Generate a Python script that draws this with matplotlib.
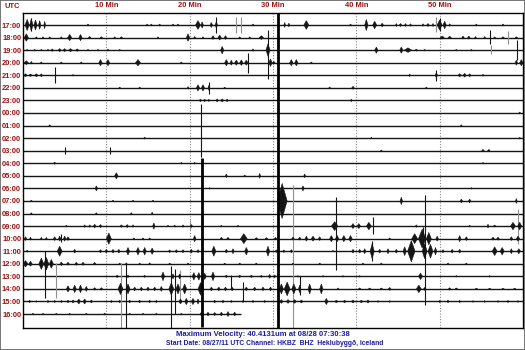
"""Helicorder plot: HKBZ BHZ, Heklubyggd, Iceland, 24 h from 08/27/11 17:00 UTC."""

import matplotlib
matplotlib.use("Agg")
import matplotlib.pyplot as plt
from matplotlib.patches import Rectangle

# --- data -------------------------------------------------------------------
hours = ["17:00", "18:00", "19:00", "20:00", "21:00", "22:00", "23:00", "00:00",
         "01:00", "02:00", "03:00", "04:00", "05:00", "06:00", "07:00", "08:00",
         "09:00", "10:00", "11:00", "12:00", "13:00", "14:00", "15:00", "16:00"]
minute_ticks = [10, 20, 30, 40, 50]
minute_labels = ["10 Min", "20 Min", "30 Min", "40 Min", "50 Min"]
last_minute = 26.2  # record stops at 16:26

# bursts: (row, minute, half-amplitude in rows, duration in minutes)
bursts = [
    (0, 0.5, 0.45, 0.5), (0, 1.0, 0.5, 0.4), (0, 1.5, 0.4, 0.4), (0, 2.0, 0.35, 0.3),
    (0, 2.6, 0.3, 0.2), (0, 7.8, 0.08, 0.2), (0, 14.9, 0.08, 0.2), (0, 15.4, 0.08, 0.2),
    (0, 16.4, 0.08, 0.2), (0, 18.0, 0.08, 0.2), (0, 18.6, 0.08, 0.2), (0, 21.0, 0.35, 0.6),
    (0, 21.5, 0.25, 0.3), (0, 22.6, 0.2, 0.3), (0, 23.2, 0.25, 0.3), (0, 27.6, 0.08, 0.2),
    (0, 31.4, 0.2, 0.2), (0, 31.9, 0.15, 0.2), (0, 34.0, 0.35, 0.6), (0, 39.3, 0.08, 0.2),
    (0, 41.2, 0.45, 0.4), (0, 42.2, 0.3, 0.5), (0, 43.1, 0.15, 0.3), (0, 44.8, 0.12, 0.2),
    (0, 45.3, 0.12, 0.3), (0, 45.9, 0.12, 0.2), (0, 46.5, 0.1, 0.2), (0, 48.0, 0.1, 0.2),
    (0, 48.6, 0.12, 0.3), (0, 49.2, 0.12, 0.2), (0, 50.0, 0.4, 0.6), (0, 50.6, 0.3, 0.4),
    (0, 51.2, 0.1, 0.2), (0, 54.4, 0.08, 0.2), (0, 57.6, 0.08, 0.2),
    (1, 0.4, 0.3, 0.5), (1, 1.6, 0.06, 0.2), (1, 2.4, 0.06, 0.2), (1, 3.2, 0.06, 0.2),
    (1, 4.6, 0.06, 0.2), (1, 5.6, 0.25, 0.5), (1, 6.9, 0.25, 0.4), (1, 8.0, 0.08, 0.3),
    (1, 9.4, 0.06, 0.3), (1, 11.0, 0.06, 0.2), (1, 11.8, 0.06, 0.3), (1, 16.2, 0.06, 0.2),
    (1, 19.8, 0.3, 0.4), (1, 20.6, 0.08, 0.2), (1, 21.6, 0.06, 0.2), (1, 22.8, 0.15, 0.3),
    (1, 23.6, 0.2, 0.4), (1, 24.3, 0.15, 0.3), (1, 26.0, 0.06, 0.2), (1, 27.2, 0.06, 0.2),
    (1, 28.6, 0.15, 0.5), (1, 50.3, 0.12, 0.5), (1, 51.2, 0.1, 0.4), (1, 52.8, 0.12, 0.3),
    (1, 53.5, 0.12, 0.3), (1, 54.3, 0.08, 0.2), (1, 55.4, 0.08, 0.2), (1, 56.6, 0.06, 0.2),
    (1, 57.6, 0.06, 0.3), (1, 59.2, 0.06, 0.3),
    (2, 0.5, 0.06, 0.2), (2, 1.4, 0.06, 0.2), (2, 2.2, 0.06, 0.2), (2, 3.0, 0.06, 0.2),
    (2, 3.5, 0.1, 0.3), (2, 4.4, 0.12, 0.4), (2, 5.0, 0.12, 0.4), (2, 5.7, 0.12, 0.5),
    (2, 6.5, 0.1, 0.4), (2, 7.8, 0.06, 0.2), (2, 9.0, 0.06, 0.2), (2, 10.2, 0.08, 0.2),
    (2, 11.6, 0.06, 0.2), (2, 23.9, 0.3, 0.4), (2, 27.6, 0.1, 0.2), (2, 29.4, 0.5, 0.5),
    (2, 42.4, 0.25, 0.4), (2, 45.4, 0.25, 0.4), (2, 46.2, 0.18, 0.9), (2, 47.2, 0.08, 0.3),
    (2, 48.2, 0.06, 0.2), (2, 52.0, 0.06, 0.2), (2, 53.8, 0.06, 0.2),
    (3, 0.4, 0.15, 0.5), (3, 1.0, 0.1, 0.2), (3, 2.2, 0.06, 0.2), (3, 4.6, 0.06, 0.2),
    (3, 7.0, 0.06, 0.2), (3, 9.3, 0.25, 0.4), (3, 10.2, 0.25, 0.4), (3, 13.8, 0.25, 0.6),
    (3, 19.0, 0.06, 0.2), (3, 24.4, 0.25, 0.4), (3, 25.0, 0.2, 0.3), (3, 25.6, 0.2, 0.4),
    (3, 26.2, 0.22, 0.4), (3, 26.8, 0.2, 0.4), (3, 29.7, 0.3, 0.4), (3, 30.1, 0.1, 0.3),
    (3, 32.2, 0.25, 0.4), (3, 32.8, 0.25, 0.4), (3, 34.6, 0.06, 0.2), (3, 59.2, 0.2, 0.3),
    (3, 59.8, 0.25, 0.4),
    (4, 0.3, 0.12, 0.4), (4, 0.9, 0.1, 0.4), (4, 1.6, 0.12, 0.4), (4, 2.2, 0.12, 0.3),
    (4, 6.0, 0.06, 0.2), (4, 46.4, 0.1, 0.2), (4, 49.6, 0.2, 0.3), (4, 52.4, 0.12, 0.4),
    (4, 53.0, 0.15, 0.4), (4, 53.6, 0.12, 0.3), (4, 55.2, 0.08, 0.2),
    (5, 11.6, 0.06, 0.2), (5, 14.0, 0.06, 0.2), (5, 19.8, 0.1, 0.2), (5, 21.0, 0.25, 0.4),
    (5, 21.6, 0.25, 0.4), (5, 22.3, 0.2, 0.2), (5, 24.2, 0.06, 0.2), (5, 36.8, 0.08, 0.2),
    (5, 39.6, 0.12, 0.3), (5, 48.4, 0.06, 0.2),
    (6, 21.3, 0.1, 0.3), (6, 21.8, 0.1, 0.3), (6, 22.3, 0.08, 0.3), (6, 23.3, 0.12, 0.3),
    (6, 23.9, 0.12, 0.4), (6, 24.5, 0.1, 0.3), (6, 39.4, 0.1, 0.2),
    (7, 59.6, 0.08, 0.2),
    (8, 3.2, 0.06, 0.2), (8, 52.6, 0.06, 0.2),
    (9, 14.6, 0.08, 0.2), (9, 41.8, 0.06, 0.2), (9, 59.6, 0.06, 0.2),
    (10, 43.0, 0.06, 0.2), (10, 55.2, 0.1, 0.3), (10, 55.9, 0.1, 0.3),
    (11, 3.8, 0.08, 0.3), (11, 19.0, 0.06, 0.2), (11, 20.6, 0.06, 0.2), (11, 55.2, 0.06, 0.2),
    (12, 11.2, 0.25, 0.4), (12, 24.4, 0.15, 0.2), (12, 26.6, 0.06, 0.2), (12, 28.4, 0.2, 0.2),
    (12, 33.8, 0.15, 0.2),
    (13, 8.8, 0.2, 0.3), (13, 22.4, 0.06, 0.2), (13, 33.6, 0.2, 0.3), (13, 53.8, 0.06, 0.2),
    (14, 1.0, 0.06, 0.2), (14, 10.8, 0.06, 0.2), (14, 13.2, 0.06, 0.2), (14, 15.6, 0.06, 0.2),
    (14, 31.1, 1.4, 1.2), (14, 45.4, 0.3, 0.3), (14, 52.6, 0.15, 0.3), (14, 53.6, 0.15, 0.3),
    (14, 59.2, 0.2, 0.2),
    (15, 1.0, 0.06, 0.2), (15, 8.8, 0.06, 0.2), (15, 13.0, 0.06, 0.2), (15, 15.5, 0.1, 0.2),
    (16, 5.2, 0.06, 0.2), (16, 7.4, 0.1, 0.2), (16, 8.0, 0.1, 0.2), (16, 8.6, 0.15, 0.3),
    (16, 9.3, 0.12, 0.3), (16, 11.8, 0.1, 0.3), (16, 12.5, 0.12, 0.3), (16, 13.2, 0.1, 0.2),
    (16, 15.7, 0.25, 0.3), (16, 17.4, 0.06, 0.2), (16, 18.2, 0.08, 0.2), (16, 19.2, 0.1, 0.2),
    (16, 20.2, 0.12, 0.3), (16, 23.8, 0.06, 0.2), (16, 25.8, 0.06, 0.2), (16, 37.4, 0.35, 0.8),
    (16, 39.6, 0.2, 0.4), (16, 40.3, 0.2, 0.4), (16, 41.5, 0.3, 0.6), (16, 47.2, 0.1, 0.2),
    (16, 53.6, 0.06, 0.2), (16, 55.8, 0.15, 0.2), (16, 56.6, 0.08, 0.3), (16, 58.8, 0.3, 0.6),
    (16, 59.6, 0.3, 0.5),
    (17, 0.3, 0.15, 0.3), (17, 0.9, 0.12, 0.2), (17, 2.2, 0.1, 0.2), (17, 2.8, 0.1, 0.2),
    (17, 3.8, 0.15, 0.3), (17, 4.4, 0.2, 0.3), (17, 5.0, 0.2, 0.3), (17, 5.4, 0.15, 0.3),
    (17, 10.3, 0.45, 0.6), (17, 13.3, 0.06, 0.2), (17, 14.4, 0.06, 0.2), (17, 15.2, 0.06, 0.2),
    (17, 20.6, 0.25, 0.3), (17, 23.8, 0.1, 0.3), (17, 24.6, 0.1, 0.3), (17, 26.5, 0.4, 0.8),
    (17, 28.0, 0.08, 0.3), (17, 29.2, 0.08, 0.3), (17, 30.3, 0.1, 0.3), (17, 32.4, 0.12, 0.3),
    (17, 33.2, 0.12, 0.3), (17, 34.0, 0.2, 0.3), (17, 34.8, 0.2, 0.4), (17, 35.6, 0.15, 0.3),
    (17, 37.0, 0.25, 0.4), (17, 37.7, 0.25, 0.4), (17, 38.5, 0.25, 0.4), (17, 39.3, 0.25, 0.4),
    (17, 44.0, 0.06, 0.2), (17, 47.0, 0.4, 0.7), (17, 47.9, 0.75, 0.9), (17, 48.7, 0.5, 0.6),
    (17, 49.7, 0.2, 0.3), (17, 52.4, 0.25, 0.3), (17, 53.2, 0.15, 0.3), (17, 56.4, 0.12, 0.3),
    (17, 57.0, 0.12, 0.3), (17, 58.6, 0.15, 0.3), (17, 59.4, 0.2, 0.4),
    (18, 0.5, 0.08, 0.2), (18, 4.4, 0.4, 0.6), (18, 6.2, 0.15, 0.3), (18, 9.3, 0.12, 0.3),
    (18, 10.0, 0.15, 0.3), (18, 10.8, 0.15, 0.3), (18, 11.5, 0.15, 0.3), (18, 12.6, 0.3, 0.4),
    (18, 13.8, 0.3, 0.4), (18, 14.6, 0.3, 0.4), (18, 15.5, 0.25, 0.4), (18, 17.6, 0.1, 0.3),
    (18, 18.4, 0.12, 0.3), (18, 19.2, 0.12, 0.3), (18, 20.2, 0.15, 0.3), (18, 21.0, 0.12, 0.3),
    (18, 22.9, 0.4, 0.5), (18, 24.4, 0.15, 0.3), (18, 25.2, 0.2, 0.3), (18, 26.8, 0.3, 0.4),
    (18, 29.4, 0.4, 0.4), (18, 30.4, 0.1, 0.3), (18, 31.3, 0.1, 0.3), (18, 32.2, 0.12, 0.3),
    (18, 37.2, 0.06, 0.2), (18, 39.6, 0.15, 0.3), (18, 40.4, 0.15, 0.3), (18, 41.0, 0.2, 0.3),
    (18, 41.9, 0.6, 0.5), (18, 42.8, 0.15, 0.3), (18, 43.8, 0.2, 0.3), (18, 44.8, 0.15, 0.3),
    (18, 45.8, 0.35, 0.4), (18, 46.6, 0.85, 0.9), (18, 48.2, 0.6, 0.6), (18, 48.9, 0.55, 0.6),
    (18, 49.5, 0.3, 0.3), (18, 50.4, 0.12, 0.3), (18, 51.5, 0.15, 0.3), (18, 52.4, 0.15, 0.3),
    (18, 56.6, 0.35, 0.6), (18, 57.5, 0.3, 0.5), (18, 58.6, 0.2, 0.3), (18, 59.5, 0.2, 0.4),
    (19, 0.3, 0.25, 0.6), (19, 0.9, 0.2, 0.4), (19, 2.2, 0.45, 0.6), (19, 2.8, 0.5, 0.6),
    (19, 3.4, 0.35, 0.5), (19, 4.6, 0.15, 0.3), (19, 5.4, 0.12, 0.3), (19, 6.4, 0.12, 0.3),
    (19, 7.2, 0.12, 0.3), (19, 8.6, 0.1, 0.3), (19, 11.6, 0.06, 0.2), (19, 12.4, 0.08, 0.2),
    (19, 14.0, 0.06, 0.2), (19, 15.2, 0.08, 0.2), (19, 17.6, 0.06, 0.2), (19, 19.8, 0.06, 0.2),
    (19, 24.2, 0.06, 0.2), (19, 26.0, 0.06, 0.2), (19, 28.0, 0.06, 0.2), (19, 32.4, 0.06, 0.2),
    (19, 35.6, 0.06, 0.2), (19, 40.8, 0.06, 0.2), (19, 43.0, 0.06, 0.2), (19, 51.0, 0.06, 0.2),
    (19, 53.2, 0.06, 0.2),
    (20, 11.3, 0.1, 0.3), (20, 12.6, 0.1, 0.3), (20, 14.6, 0.08, 0.3), (20, 16.8, 0.35, 0.4),
    (20, 18.0, 0.2, 0.3), (20, 18.8, 0.2, 0.3), (20, 20.5, 0.3, 0.4), (20, 21.1, 0.3, 0.4),
    (20, 21.8, 0.25, 0.4), (20, 22.8, 0.35, 0.4), (20, 24.4, 0.1, 0.3), (20, 26.0, 0.1, 0.3),
    (20, 27.4, 0.1, 0.3), (20, 28.6, 0.08, 0.3), (20, 29.6, 0.15, 0.3), (20, 30.2, 0.1, 0.3),
    (20, 33.0, 0.06, 0.2), (20, 36.0, 0.06, 0.2), (20, 38.4, 0.06, 0.2), (20, 40.4, 0.06, 0.2),
    (20, 47.7, 0.25, 0.5), (20, 52.0, 0.06, 0.2), (20, 56.0, 0.06, 0.2),
    (21, 5.4, 0.25, 0.4), (21, 6.2, 0.3, 0.4), (21, 6.9, 0.3, 0.4), (21, 7.6, 0.2, 0.3),
    (21, 8.6, 0.1, 0.3), (21, 9.4, 0.1, 0.3), (21, 11.7, 0.45, 0.6), (21, 12.6, 0.4, 0.5),
    (21, 13.4, 0.15, 0.3), (21, 14.2, 0.15, 0.3), (21, 15.0, 0.15, 0.3), (21, 15.8, 0.15, 0.3),
    (21, 16.6, 0.2, 0.3), (21, 17.8, 0.5, 0.6), (21, 18.6, 0.4, 0.5), (21, 19.4, 0.4, 0.5),
    (21, 21.3, 0.5, 0.6), (21, 22.6, 0.15, 0.3), (21, 23.5, 0.15, 0.3), (21, 24.3, 0.15, 0.3),
    (21, 25.1, 0.15, 0.3), (21, 26.8, 0.15, 0.3), (21, 27.8, 0.15, 0.3), (21, 28.8, 0.15, 0.3),
    (21, 29.7, 0.15, 0.3), (21, 31.0, 0.4, 0.5), (21, 31.7, 0.55, 0.7), (21, 32.5, 0.4, 0.5),
    (21, 33.2, 0.3, 0.3), (21, 34.4, 0.4, 0.4), (21, 35.8, 0.4, 0.4), (21, 37.8, 0.08, 0.2),
    (21, 40.4, 0.08, 0.3), (21, 41.6, 0.08, 0.3), (21, 43.0, 0.08, 0.3), (21, 44.0, 0.12, 0.3),
    (21, 47.5, 0.3, 0.6), (21, 48.2, 0.12, 0.3), (21, 51.2, 0.1, 0.3), (21, 52.0, 0.08, 0.3),
    (21, 54.4, 0.06, 0.3), (21, 56.0, 0.06, 0.3), (21, 57.6, 0.06, 0.3), (21, 59.0, 0.06, 0.3),
    (22, 0.8, 0.1, 0.3), (22, 1.6, 0.06, 0.2), (22, 3.0, 0.08, 0.3), (22, 3.8, 0.08, 0.3),
    (22, 4.6, 0.08, 0.3), (22, 5.4, 0.1, 0.3), (22, 6.0, 0.12, 0.3), (22, 6.7, 0.2, 0.4),
    (22, 7.4, 0.2, 0.4), (22, 8.2, 0.12, 0.3), (22, 10.6, 0.08, 0.3), (22, 11.6, 0.1, 0.3),
    (22, 12.8, 0.1, 0.3), (22, 14.0, 0.1, 0.3), (22, 15.2, 0.1, 0.3), (22, 16.0, 0.08, 0.3),
    (22, 18.9, 0.2, 0.4), (22, 19.6, 0.25, 0.4), (22, 20.4, 0.25, 0.4), (22, 21.0, 0.2, 0.3),
    (22, 23.0, 0.1, 0.3), (22, 24.0, 0.1, 0.3), (22, 25.0, 0.08, 0.3), (22, 26.4, 0.08, 0.3),
    (22, 27.6, 0.08, 0.3), (22, 29.0, 0.08, 0.3), (22, 31.0, 0.15, 0.4), (22, 31.8, 0.15, 0.4),
    (22, 32.6, 0.15, 0.4), (22, 33.4, 0.12, 0.4), (22, 36.4, 0.25, 0.4), (22, 37.6, 0.1, 0.4),
    (22, 38.6, 0.1, 0.4), (22, 39.6, 0.12, 0.4), (22, 40.6, 0.1, 0.4), (22, 41.4, 0.12, 0.4),
    (22, 42.6, 0.06, 0.3), (22, 44.0, 0.06, 0.3), (22, 50.0, 0.08, 0.3), (22, 51.0, 0.1, 0.3),
    (22, 52.4, 0.08, 0.3), (22, 54.0, 0.06, 0.3), (22, 55.4, 0.06, 0.3), (22, 57.0, 0.06, 0.3),
    (22, 58.2, 0.08, 0.3), (22, 59.4, 0.06, 0.3),
    (23, 1.2, 0.06, 0.2), (23, 2.4, 0.06, 0.2), (23, 4.0, 0.06, 0.2), (23, 5.6, 0.06, 0.2),
    (23, 7.6, 0.06, 0.2), (23, 9.8, 0.08, 0.2), (23, 12.8, 0.06, 0.2), (23, 14.4, 0.06, 0.2),
    (23, 16.0, 0.06, 0.2), (23, 19.0, 0.06, 0.2), (23, 21.4, 0.15, 0.3), (23, 22.2, 0.15, 0.3),
    (23, 23.0, 0.12, 0.3), (23, 23.8, 0.15, 0.3), (23, 24.6, 0.2, 0.3), (23, 25.4, 0.15, 0.3),
]

# spikes: (row, minute, reach above trace, reach below trace), in rows
spikes = [
    (0, 23.2, 0.6, 0.6), (0, 50.0, 0.55, 0.5), (0, 1.0, 0.55, 0.5),
    (1, 56.0, 0.6, 0.55), (2, 29.4, 1.6, 2.3), (2, 59.3, 0.8, 0.8),
    (3, 27.0, 0.8, 0.8), (4, 3.8, 0.65, 0.65), (4, 49.6, 0.45, 0.45),
    (5, 22.3, 0.5, 0.5), (7, 21.4, 0.7, 3.5), (10, 5.0, 0.3, 0.3), (10, 10.4, 0.3, 0.3),
    (14, 37.6, 0.3, 5.5), (14, 48.2, 0.5, 8.3), (16, 42.0, 0.7, 0.6),
    (17, 4.6, 0.35, 0.3), (17, 48.0, 0.9, 0.8), (18, 41.9, 0.8, 0.8),
    (19, 2.6, 1.0, 2.7), (20, 12.4, 1.0, 4.1), (20, 17.8, 0.8, 4.1),
    (20, 18.2, 0.6, 3.0), (20, 25.0, 0.1, 1.0), (21, 26.4, 0.55, 1.0), (21, 33.2, 1.0, 0.5),
]
faint_spikes = [
    (0, 25.6, 0.65, 0.6), (0, 26.2, 0.65, 0.6), (0, 49.6, 0.6, 0.55),
    (1, 58.2, 0.55, 0.5), (2, 56.2, 0.4, 0.3), (13, 32.4, 0.3, 11.3),
    (16, 20.0, 0.5, 0.3), (16, 59.4, 1.35, 1.4), (19, 4.0, 0.1, 2.7),
    (20, 11.8, 1.1, 4.1), (20, 18.8, 0.5, 2.0),
]
# clipped traces of the largest events
big_spikes = [(14, 30.65, 16.0, 11.0), (15, 21.5, 4.45, 9.0)]

# bottom caption
max_line = "Maximum Velocity: 40.4131um at 08/28 07:30:38"
info_line = "Start Date: 08/27/11 UTC Channel: HKBZ  BHZ  Heklubyggð, Iceland"

# --- plot -------------------------------------------------------------------
RED = "#9a1212"
BLUE = "#1c1ca0"
TRACE = "#151515"
plt.rcParams["font.family"] = ["Liberation Sans", "DejaVu Sans"]

fig = plt.figure(figsize=(5.25, 3.5), dpi=100)
ax = fig.add_axes([23 / 525, 22 / 350, 500 / 525, 315 / 350])
ax.set_xlim(0, 60)
ax.set_ylim(24.11, -0.955)

rows = list(range(len(hours)))
ends = [60] * (len(hours) - 1) + [last_minute]
ax.hlines(rows, 0, ends, color=TRACE, lw=1.0, zorder=2)

for r, t, a, w in bursts:
    ax.fill([t - w / 2, t, t + w / 2, t], [r, r - a, r, r + a],
            color=TRACE, lw=0.35, zorder=3)
for r, t, up, down in spikes:
    ax.vlines(t, r - up, r + down, color=TRACE, lw=0.8, zorder=3)
for r, t, up, down in faint_spikes:
    ax.vlines(t, r - up, r + down, color="#909090", lw=0.8, zorder=2.5)
for r, t, up, down in big_spikes:
    ax.vlines(t, r - up, r + down, color="black", lw=2.0, zorder=4)

ax.set_yticks(rows, hours)
ax.xaxis.tick_top()
ax.set_xticks(minute_ticks, minute_labels)
ax.tick_params(length=0, labelsize=5.4, labelcolor=RED)
ax.tick_params(axis="y", pad=1.3)
ax.tick_params(axis="x", pad=2.6)
for lab in ax.get_xticklabels() + ax.get_yticklabels():
    lab.set_fontweight("bold")
ax.grid(axis="x", color="#8a8a8a", lw=0.8, ls=(0, (1, 1.5)))
ax.set_axisbelow(True)
for s in ax.spines.values():
    s.set_color("black")
    s.set_linewidth(1.0)

fig.text(12 / 525, 1 - 6.5 / 350, "UTC", color=RED, fontsize=5.4,
         fontweight="bold", ha="center", va="center")
fig.text(263 / 525, 1 - 334.5 / 350, max_line, color=BLUE, fontsize=5.5,
         fontweight="bold", ha="center", va="center")
fig.text(275 / 525, 1 - 343.5 / 350, info_line, color=BLUE, fontsize=4.9,
         fontweight="bold", ha="center", va="center")
fig.add_artist(Rectangle((0, 0), 1, 1, transform=fig.transFigure, fill=False,
                         ec="#606060", lw=1.2))

fig.savefig("out.png", dpi=100)
